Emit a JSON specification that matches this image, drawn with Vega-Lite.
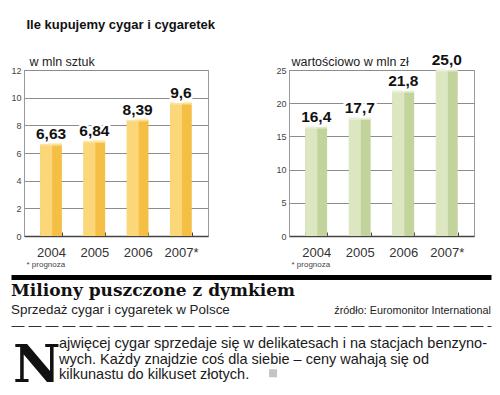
{
  "$schema": "https://vega.github.io/schema/vega-lite/v6.json",
  "padding": {"left": 10, "right": 10, "top": 18, "bottom": 0},
  "background": "white",
  "title": {"text": "Ile kupujemy cygar i cygaretek", "anchor": "start", "dx": 16, "font": "Liberation Sans", "fontSize": 13, "fontWeight": "bold", "color": "#111", "offset": 21},
  "config": {
    "font": "Liberation Sans",
    "locale": {"number": {"decimal": ",", "thousands": " ", "grouping": [3], "currency": ["", " zł"]}},
    "view": {"stroke": "#9a9a9a", "strokeWidth": 1},
    "axis": {"gridColor": "#8c8c8c", "gridWidth": 1}
  },
  "vconcat": [
    {
      "hconcat": [
        {
          "width": 184, "height": 166,
          "data": {"values": [
            {"rok": "2004", "v": 6.63},
            {"rok": "2005", "v": 6.84},
            {"rok": "2006", "v": 8.39},
            {"rok": "2007*", "v": 9.6}
          ]},
          "encoding": {
            "x": {"field": "rok", "type": "nominal", "sort": null,
              "scale": {"paddingInner": 0.5, "paddingOuter": 0.375},
              "axis": {"title": "* prognoza", "titleFontSize": 8, "titleFontWeight": "normal", "titleColor": "#444", "titleAnchor": "start", "titleAlign": "left", "titleX": 2, "titlePadding": 1,
                "labelAngle": 0, "labelFontSize": 13, "labelColor": "#333", "labelPadding": 14, "tickBand": "extent", "tickSize": -4, "tickColor": "#444", "domainColor": "#444", "domainWidth": 1.5, "grid": false}},
            "y": {"field": "v", "type": "quantitative",
              "scale": {"domain": [0, 12], "nice": false},
              "axis": {"title": "w mln sztuk", "titleAngle": 0, "titleAlign": "left", "titleBaseline": "alphabetic", "titleX": 5, "titleY": -5, "titleFontSize": 12.5, "titleFontWeight": "normal", "titleColor": "#222",
                "values": [0, 2, 4, 6, 8, 10, 12], "labelFontSize": 9, "labelColor": "#444", "labelPadding": 3, "ticks": false, "domainColor": "#9a9a9a", "grid": true}}
          },
          "layer": [
            {"mark": {"type": "bar", "color": "#F5BF45"}},
            {"mark": {"type": "bar", "color": "#FCD77A", "width": {"band": 0.55}, "xOffset": -4.9}},
            {"mark": {"type": "tick", "color": "#FEE8AA", "thickness": 3, "size": 21.7, "orient": "horizontal"}},
            {"mark": {"type": "text", "baseline": "alphabetic", "dy": -5, "fontSize": 15.5, "fontWeight": "bold", "fill": "white", "stroke": "white", "strokeWidth": 5},
              "encoding": {"text": {"field": "v", "type": "quantitative", "format": "~g"}}},
            {"mark": {"type": "text", "baseline": "alphabetic", "dy": -5, "fontSize": 15.5, "fontWeight": "bold", "color": "#111"},
              "encoding": {"text": {"field": "v", "type": "quantitative", "format": "~g"}}}
          ]
        },
        {
          "width": 185, "height": 166,
          "data": {"values": [
            {"rok": "2004", "v": 16.4},
            {"rok": "2005", "v": 17.7},
            {"rok": "2006", "v": 21.8},
            {"rok": "2007*", "v": 25.0}
          ]},
          "encoding": {
            "x": {"field": "rok", "type": "nominal", "sort": null,
              "scale": {"paddingInner": 0.5, "paddingOuter": 0.375},
              "axis": {"title": "* prognoza", "titleFontSize": 8, "titleFontWeight": "normal", "titleColor": "#444", "titleAnchor": "start", "titleAlign": "left", "titleX": 2, "titlePadding": 1,
                "labelAngle": 0, "labelFontSize": 13, "labelColor": "#333", "labelPadding": 14, "tickBand": "extent", "tickSize": -4, "tickColor": "#444", "domainColor": "#444", "domainWidth": 1.5, "grid": false}},
            "y": {"field": "v", "type": "quantitative",
              "scale": {"domain": [0, 25], "nice": false},
              "axis": {"title": "wartościowo w mln zł", "titleAngle": 0, "titleAlign": "left", "titleBaseline": "alphabetic", "titleX": 2, "titleY": -5, "titleFontSize": 12.5, "titleFontWeight": "normal", "titleColor": "#222",
                "values": [0, 5, 10, 15, 20, 25], "labelFontSize": 9, "labelColor": "#444", "labelPadding": 3, "ticks": false, "domainColor": "#9a9a9a", "grid": true}}
          },
          "layer": [
            {"mark": {"type": "bar", "color": "#C2D39B"}},
            {"mark": {"type": "bar", "color": "#DCE7C2", "width": {"band": 0.55}, "xOffset": -4.9}},
            {"mark": {"type": "tick", "color": "#EDF3DE", "thickness": 3, "size": 21.7, "orient": "horizontal"}},
            {"mark": {"type": "text", "baseline": "alphabetic", "dy": -5, "fontSize": 15.5, "fontWeight": "bold", "fill": "white", "stroke": "white", "strokeWidth": 5},
              "encoding": {"text": {"field": "v", "type": "quantitative", "format": ".1f"}}},
            {"mark": {"type": "text", "baseline": "alphabetic", "dy": -5, "fontSize": 15.5, "fontWeight": "bold", "color": "#111"},
              "encoding": {"text": {"field": "v", "type": "quantitative", "format": ".1f"}}}
          ]
        }
      ],
      "spacing": 66
    },
    {
      "vconcat": [
        {
          "width": 467, "height": 48.5,
          "view": {"stroke": null},
          "data": {"values": [
            {"part": "headline", "line": "h", "text": "Miliony puszczone z dymkiem"},
            {"part": "sub", "line": "s", "text": "Sprzedaż cygar i cygaretek w Polsce"},
            {"part": "source", "line": "s", "text": "źródło: Euromonitor International"}
          ]},
          "encoding": {
            "y": {"field": "line", "type": "nominal", "scale": {"type": "point", "domain": ["h", "s"], "padding": 0.926, "align": 0.619}, "axis": null}
          },
          "layer": [
            {"transform": [{"filter": "datum.part == 'headline'"}],
              "mark": {"type": "text", "align": "left", "baseline": "alphabetic", "font": "DejaVu Serif", "fontWeight": "bold", "fontSize": 17, "color": "#111"},
              "encoding": {
                "x": {"datum": 0, "type": "quantitative", "scale": {"domain": [0, 1], "range": [-13, 467]},
                  "axis": {"orient": "top", "domainWidth": 5, "domainColor": "#000", "labels": false, "ticks": false, "grid": false, "title": null}},
                "text": {"field": "text"}}},
            {"transform": [{"filter": "datum.part == 'sub'"}],
              "mark": {"type": "text", "align": "left", "baseline": "alphabetic", "font": "Liberation Sans", "fontSize": 13.4, "color": "#222"},
              "encoding": {"x": {"datum": 0, "type": "quantitative"}, "text": {"field": "text"}}},
            {"transform": [{"filter": "datum.part == 'source'"}],
              "mark": {"type": "text", "align": "right", "baseline": "alphabetic", "font": "Liberation Sans", "fontSize": 10.8, "color": "#222"},
              "encoding": {"x": {"datum": 1, "type": "quantitative"}, "text": {"field": "text"}}}
          ]
        },
        {
          "width": 467, "height": 62,
          "view": {"stroke": null},
          "data": {"values": [
            {"part": "body", "line": "b1", "text": "ajwięcej cygar sprzedaje się w delikatesach i na stacjach benzyno-"},
            {"part": "body", "line": "b2", "text": "wych. Każdy znajdzie coś dla siebie – ceny wahają się od"},
            {"part": "body", "line": "b3", "text": "kilkunastu do kilkuset złotych."},
            {"part": "dropcap", "line": "b3", "text": "N"},
            {"part": "end", "line": "b3", "text": ""}
          ]},
          "encoding": {
            "y": {"field": "line", "type": "nominal", "scale": {"type": "point", "domain": ["b1", "b2", "b3"], "padding": 1.067, "align": 0.719}, "axis": null}
          },
          "layer": [
            {"transform": [{"filter": "datum.part == 'body'"}],
              "mark": {"type": "text", "align": "left", "baseline": "alphabetic", "font": "Liberation Sans", "fontSize": 14.5, "color": "#1a1a1a"},
              "encoding": {
                "x": {"datum": 0.1, "type": "quantitative", "scale": {"domain": [0, 1], "range": [-13, 467]},
                  "axis": {"orient": "top", "domainWidth": 1.2, "domainColor": "#333", "domainDash": [13, 4], "labels": false, "ticks": false, "grid": false, "title": null}},
                "text": {"field": "text"}}},
            {"transform": [{"filter": "datum.part == 'dropcap'"}],
              "mark": {"type": "text", "align": "left", "baseline": "alphabetic", "dx": 2, "dy": 3, "font": "DejaVu Serif", "fontWeight": "bold", "fontSize": 52, "color": "#111"},
              "encoding": {"x": {"datum": 0, "type": "quantitative"}, "text": {"field": "text"}}},
            {"transform": [{"filter": "datum.part == 'end'"}],
              "mark": {"type": "square", "size": 64, "color": "#c4c4c4", "opacity": 1, "yOffset": -6},
              "encoding": {"x": {"datum": 0.546, "type": "quantitative"}}}
          ]
        }
      ],
      "spacing": 0
    }
  ],
  "spacing": 8
}
